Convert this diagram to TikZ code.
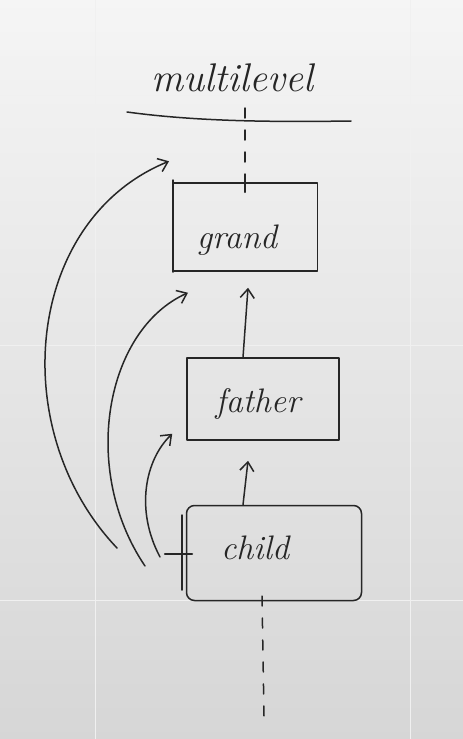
\documentclass[tikz,border=0pt]{standalone}
\usetikzlibrary{arrows.meta}
\begin{document}
\begin{tikzpicture}[x=1pt,y=-1pt,
  ink/.style={draw=black!85,line width=1.5pt,line cap=round,line join=round},
  boxs/.style={ink,minimum width=145pt,minimum height=88pt,inner sep=0pt},
  hand/.style={font=\itshape\fontsize{34}{36}\selectfont,text=black!85},
  arr/.style={ink,-{Straight Barb[length=9pt,width=14pt]}},
  dsh/.style={ink,dash pattern=on 10pt off 12pt}]
\useasboundingbox (0,0) rectangle (463,739);
\shade[top color=black!4,bottom color=black!16] (0,0) rectangle (463,739);
\foreach \y in {95,345,600}{\draw[black!6,line width=0.6pt] (0,\y) -- (463,\y);}
\foreach \x in {95,410}{\draw[black!6,line width=0.6pt] (\x,0) -- (\x,739);}
% title
\node[hand,font=\itshape\fontsize{40}{42}\selectfont] (title) at (232,78) {multilevel};
\draw[ink] (127,112) .. controls (200,122) and (280,122) .. (351,121);
% boxes
\node[boxs] (grand) at (245,227) {};
\node[hand] at (237,240) {grand};
\node[boxs,minimum width=152pt,minimum height=82pt] (father) at (263,399) {};
\node[hand] at (258,404) {father};
\node[boxs,minimum width=175pt,minimum height=95pt,rounded corners=8pt] (child) at (274,553) {};
\node[hand] (childt) at (255,548) {child};
% dashed vertical
\draw[dsh] (245,108) -- (grand.north);
\draw[ink] (grand.north) -- ++(0,10);
\coordinate (cb) at (262,596);
\draw[dsh] (cb) -- (264,716);
% left ticks
\draw[ink] (173,180) -- (173,272);
\draw[ink] (182,515) -- (182,590);
\draw[ink,line width=2.5pt] (165,554) -- (192,554);
% vertical arrows
\draw[arr] ([xshift=-20pt]father.north) -- ([xshift=3pt,yshift=-16pt]grand.south);
\draw[arr] ([xshift=-31pt]child.north) -- ([xshift=-15pt,yshift=-20pt]father.south);
% curved arrows from child left
\coordinate (s1) at (117,548);
\coordinate (s2) at (145,566);
\coordinate (s3) at (160,557);
\draw[arr] (s1) .. controls (5,430) and (25,220) .. ([xshift=-76pt,yshift=21pt]grand.north);
\draw[arr] (s2) .. controls (80,470) and (105,330) .. ([xshift=-57pt,yshift=-21pt]grand.south);
\draw[arr] (s3) .. controls (135,510) and (145,460) .. ([xshift=-14pt,yshift=7pt]father.south west);
\end{tikzpicture}
\end{document}
